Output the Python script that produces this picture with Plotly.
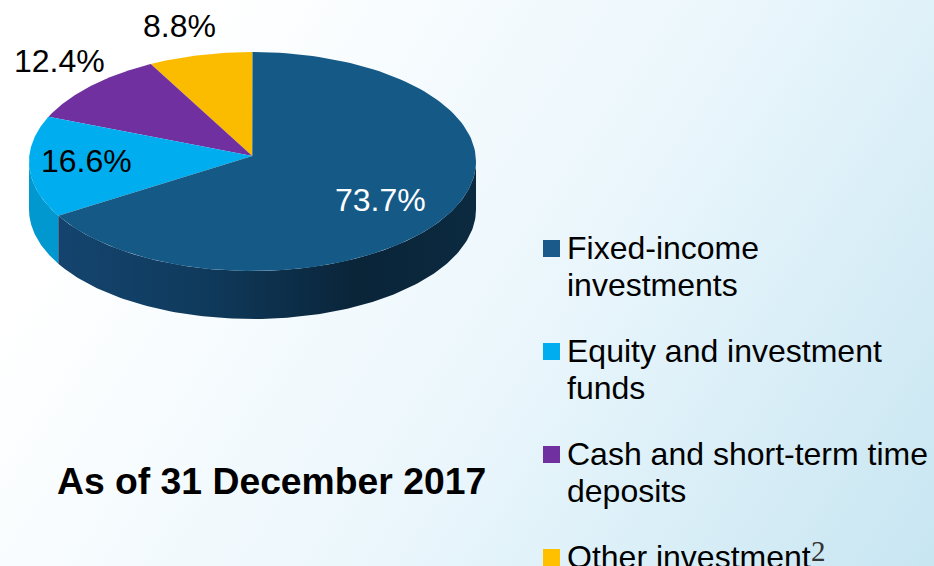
import base64
import numpy as np
import plotly.graph_objects as go

# Data, in clockwise order from 12 o'clock
categories = ["Fixed-income investments", "Equity and investment funds",
              "Cash and short-term time deposits", "Other investment"]
values = [73.7, 16.6, 12.4, 8.8]
value_labels = ["73.7%", "16.6%", "12.4%", "8.8%"]
colors = ["#155A87", "#00AEEF", "#7030A0", "#FBBC00"]
side_colors = ["#14446E", "#0098CE"]
legend_colors = ["#1A5A8A", "#00AEEF", "#7030A0", "#FFC000"]
legend_lines = [["Fixed-income", "investments"], ["Equity and investment", "funds"],
                ["Cash and short-term time", "deposits"], ["Other investment"]]
footnote_mark = "2"
title_text = "As of 31 December 2017"
cut_off_label = "8.8%"

W, H = 934, 566
FONT = "Liberation Sans"
CX, CY, RX, RY = 252.5, 161.5, 223.5, 109.5
AX, AY = 252.3, 156.0
DEPTH = 48.0
PERSPECTIVE = 2.8


def rim(deg, dy=0.0):
    t = np.radians(deg)
    return CX - RX * np.sin(t), CY + dy - RY * np.cos(t)


def arc(a, b, dy=0.0):
    return rim(np.linspace(a, b, 140), dy)


shares = np.array(values, dtype=float) / sum(values) * 360
# going counter-clockwise from the top: other, cash, equity, then fixed-income
cum = np.cumsum(shares[::-1][:3])
ccw_edges = np.concatenate([[0], cum - PERSPECTIVE * np.sin(np.radians(cum)), [360]])

fig = go.Figure()

svg = ('<svg xmlns="http://www.w3.org/2000/svg" width="934" height="566" preserveAspectRatio="none">'
       '<defs><linearGradient id="g" gradientUnits="userSpaceOnUse" x1="180" y1="60" x2="930" y2="560">'
       '<stop offset="0" stop-color="#FFFFFF"/><stop offset="0.5" stop-color="#EAF6FC"/>'
       '<stop offset="1" stop-color="#C8E6F2"/></linearGradient></defs>'
       '<rect width="934" height="566" fill="url(#g)"/></svg>')
bg = "data:image/svg+xml;base64," + base64.b64encode(svg.encode()).decode()

# side walls: equity part then fixed-income part
def wall(a, b):
    tx, ty = arc(a, b)
    bx, by = arc(a, b, DEPTH)
    return np.r_[tx, bx[::-1], tx[0]], np.r_[ty, by[::-1], ty[0]]


eq_end = ccw_edges[3]
x, y = wall(90, eq_end)
fig.add_trace(go.Scatter(x=x, y=y, mode="lines", fill="toself", fillcolor=side_colors[1],
                         line=dict(width=0), hoverinfo="skip", showlegend=False))
x, y = wall(eq_end, 270)
fig.add_trace(go.Scatter(x=x, y=y, mode="lines", line=dict(width=0), hoverinfo="skip", showlegend=False,
                         fill="toself",
                         fillgradient=dict(type="horizontal",
                                           colorscale=[[0, "#14446E"], [0.35, "#0F3A5C"], [0.72, "#0A2438"], [1, "#0B2A40"]])))

# top face
for i, idx in enumerate([3, 2, 1, 0]):
    rx_, ry_ = arc(ccw_edges[i], ccw_edges[i + 1])
    fig.add_trace(go.Scatter(x=np.r_[AX, rx_, AX], y=np.r_[AY, ry_, AY], mode="lines", fill="toself",
                             fillcolor=colors[idx], line=dict(width=0), name=categories[idx],
                             hoverinfo="name", showlegend=False))

annots = []


def text(s, x, y, size=32, color="#000000", bold=False, xanchor="center", family=FONT):
    annots.append(dict(x=x, y=y, xref="x", yref="y", text=f"<b>{s}</b>" if bold else s, showarrow=False,
                       xanchor=xanchor, yanchor="middle", xshift=0,
                       font=dict(family=family, size=size, color=color)))


label_pos = [(380, 200, "#FFFFFF"), (86, 161, "#000000"), (59.5, 61, "#000000"), (179, 26, "#000000")]
for s, (lx, ly, c) in zip(value_labels, label_pos):
    text(s, lx, ly, color=c)
text(title_text, 271, 481, size=37.3, bold=True)
text(cut_off_label, 212, 577)

shapes = []
swatch_top = [240, 343, 446, 549]
for col, top, lines in zip(legend_colors, swatch_top, legend_lines):
    shapes.append(dict(type="rect", xref="x", yref="y", x0=543, x1=560, y0=top, y1=top + 17,
                       fillcolor=col, line=dict(width=0), layer="above"))
    for j, line in enumerate(lines):
        text(line, 565, top + 8 + 37 * j, xanchor="left")
text(footnote_mark, 809, 551, size=29, color="#333333", xanchor="left", family="Liberation Serif")

fig.update_layout(
    width=W, height=H, autosize=False,
    margin=dict(l=0, r=0, t=0, b=0),
    paper_bgcolor="white", plot_bgcolor="rgba(0,0,0,0)",
    xaxis=dict(range=[0, W], visible=False, fixedrange=True),
    yaxis=dict(range=[H, 0], visible=False, fixedrange=True),
    showlegend=False,
    images=[dict(source=bg, xref="paper", yref="paper", x=0, y=1, sizex=1, sizey=1,
                 sizing="stretch", xanchor="left", yanchor="top", layer="below")],
    annotations=annots, shapes=shapes,
)
fig.write_html("out.html", config=dict(displayModeBar=False),
               post_script="document.body.style.margin='0';document.documentElement.style.overflow='hidden';")
